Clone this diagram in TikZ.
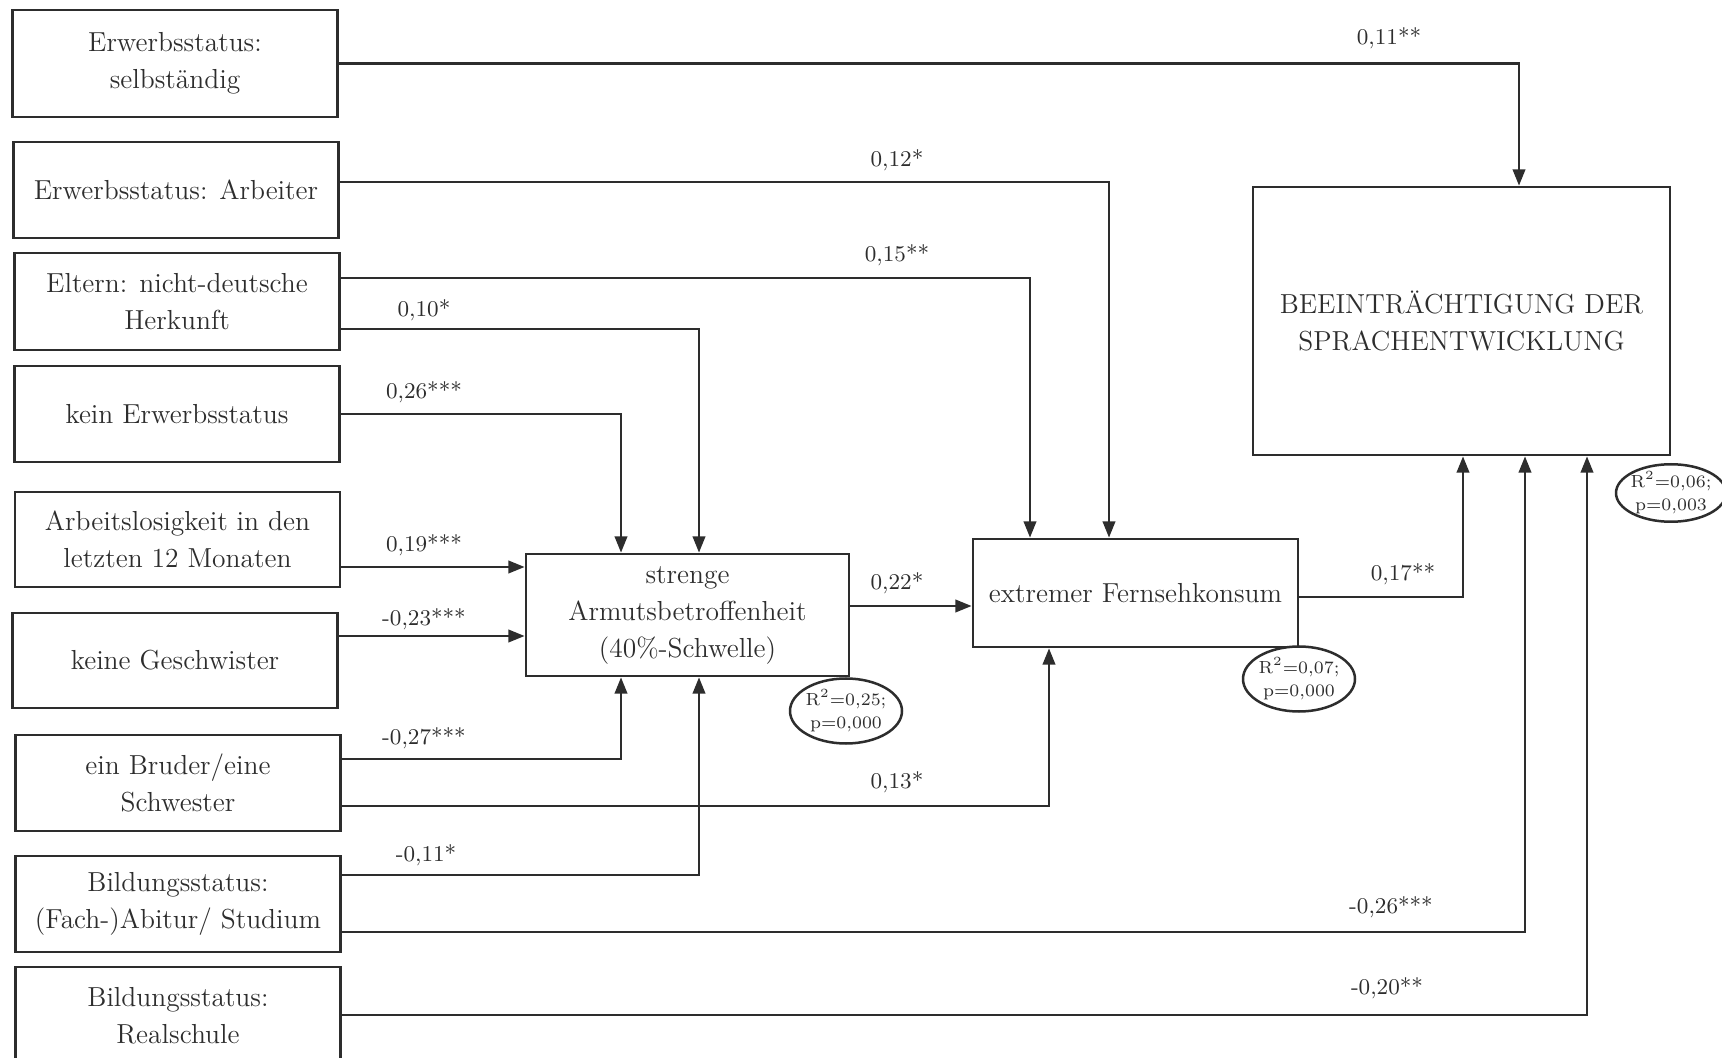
\documentclass[tikz,border=0pt]{standalone}
\usepackage{fontspec}
\usetikzlibrary{arrows.meta,shapes.geometric}

\definecolor{scan}{RGB}{45,45,45}
\tikzset{every picture/.style={line width=0.75pt}}
\tikzset{
  kasten/.style={draw=scan, line width=1.1pt, align=center, inner sep=0pt, text=scan, font=\fontsize{11}{14.8}\selectfont},
  pfeil/.style={draw=scan, line width=0.9pt, -{Triangle[length=6.5pt,width=5pt]}},
  koeff/.style={inner sep=0.75pt, text=scan, font=\fontsize{9}{11}\selectfont},
  guete/.style={ellipse, draw=scan, line width=1pt, inner sep=0pt},
  guetetext/.style={inner sep=0pt, align=center, text=scan, font=\fontsize{7}{9.5}\selectfont},
}

\begin{document}
\begin{tikzpicture}[x=0.4pt,y=0.4pt,yscale=-1,xscale=1]
\clip (0,0) rectangle (1722,1058);
\fill[white] (0,0) rectangle (1722,1058);

%Shape: Rectangle (left column)
\node[kasten, minimum width=130pt, minimum height=42.8pt] (selb) at (175,63.5) {Erwerbsstatus:\\selbständig};
\node[kasten, minimum width=130pt, minimum height=38.4pt] (arb) at (176,190) {Erwerbsstatus: Arbeiter};
\node[kasten, minimum width=130pt, minimum height=38.8pt] (elt) at (177,301.5) {Eltern: nicht-deutsche\\Herkunft};
\node[kasten, minimum width=130pt, minimum height=38.4pt] (kein) at (177,414) {kein Erwerbsstatus};
\node[kasten, minimum width=130pt, minimum height=38pt] (arbl) at (177.5,539.5) {Arbeitslosigkeit in den\\letzten 12 Monaten};
\node[kasten, minimum width=130pt, minimum height=38pt] (gesch) at (175,660.5) {keine Geschwister};
\node[kasten, minimum width=130pt, minimum height=38.4pt] (brud) at (178,783) {ein Bruder/eine\\Schwester};
\node[kasten, minimum width=130pt, minimum height=38.4pt] (abi) at (178,904) {Bildungsstatus:\\(Fach-)Abitur/ Studium};
\node[kasten, minimum width=130pt, minimum height=39.2pt] (real) at (178,1016) {Bildungsstatus:\\Realschule};

%Shape: Rectangle (mediators and outcome)
\node[kasten, minimum width=129.2pt, minimum height=48.8pt] (armut) at (687.5,615) {strenge\\Armutsbetroffenheit\\(40\%-Schwelle)};
\node[kasten, minimum width=130pt, minimum height=43.2pt] (fern) at (1135.5,593) {extremer Fernsehkonsum};
\node[kasten, minimum width=166.8pt, minimum height=107.2pt] (ziel) at (1461.5,321) {BEEINTRÄCHTIGUNG DER\\SPRACHENTWICKLUNG};

%Shape: Ellipse
\node[guete, minimum width=44.8pt, minimum height=26pt] (gArmut) at (846,711) {};
\node[guetetext] (tArmut) at (gArmut.center) {R$^2$=0,25;\\p=0,000};
\node[guete, minimum width=44.8pt, minimum height=26pt] (gFern) at (1299,679) {};
\node[guetetext] (tFern) at (gFern.center) {R$^2$=0,07;\\p=0,000};
\node[guete, minimum width=44pt, minimum height=23pt] (gZiel) at (1671,493) {};
\node[guetetext] (tZiel) at (gZiel.center) {R$^2$=0,06;\\p=0,003};

%Straight Lines
\draw[pfeil] (selb.east) -| (ziel.north -| 1519,0);
%Straight Lines
\draw[pfeil] (arb.east |- 0,182) -| (fern.north -| 1109,0);
%Straight Lines
\draw[pfeil] (elt.east |- 0,278) -| (fern.north -| 1030,0);
%Straight Lines
\draw[pfeil] (elt.east |- 0,329) -| (armut.north -| 699,0);
%Straight Lines
\draw[pfeil] (kein.east |- 0,414) -| (armut.north -| 621,0);
%Straight Lines
\draw[pfeil] (arbl.east |- 0,567) -- (armut.west |- 0,567);
%Straight Lines
\draw[pfeil] (gesch.east |- 0,636) -- (armut.west |- 0,636);
%Straight Lines
\draw[pfeil] (brud.east |- 0,759) -| (armut.south -| 621,0);
%Straight Lines
\draw[pfeil] (brud.east |- 0,806) -| (fern.south -| 1049,0);
%Straight Lines
\draw[pfeil] (abi.east |- 0,875) -| (armut.south -| 699,0);
%Straight Lines
\draw[pfeil] (abi.east |- 0,932) -| (ziel.south -| 1525,0);
%Straight Lines
\draw[pfeil] (real.east |- 0,1015) -| (ziel.south -| 1587,0);
%Straight Lines
\draw[pfeil] (armut.east |- 0,606) -- (fern.west |- 0,606);
%Straight Lines
\draw[pfeil] (fern.east |- 0,597) -| (ziel.south -| 1463,0);

% Text Node
\node[koeff] (k1) at (1389,38) {0,11**};
% Text Node
\node[koeff] (k2) at (897,160) {0,12*};
% Text Node
\node[koeff] (k3) at (897,255) {0,15**};
% Text Node
\node[koeff] (k4) at (424,310) {0,10*};
% Text Node
\node[koeff] (k5) at (424,392) {0,26***};
% Text Node
\node[koeff] (k6) at (424,545) {0,19***};
% Text Node
\node[koeff] (k7) at (424,619) {-0,23***};
% Text Node
\node[koeff] (k8) at (424,738) {-0,27***};
% Text Node
\node[koeff] (k9) at (897,782) {0,13*};
% Text Node
\node[koeff] (k10) at (426,855) {-0,11*};
% Text Node
\node[koeff] (k11) at (1391,907) {-0,26***};
% Text Node
\node[koeff] (k12) at (1387,988) {-0,20**};
% Text Node
\node[koeff] (k13) at (897,583) {0,22*};
% Text Node
\node[koeff] (k14) at (1403,574) {0,17**};

\end{tikzpicture}
\end{document}
